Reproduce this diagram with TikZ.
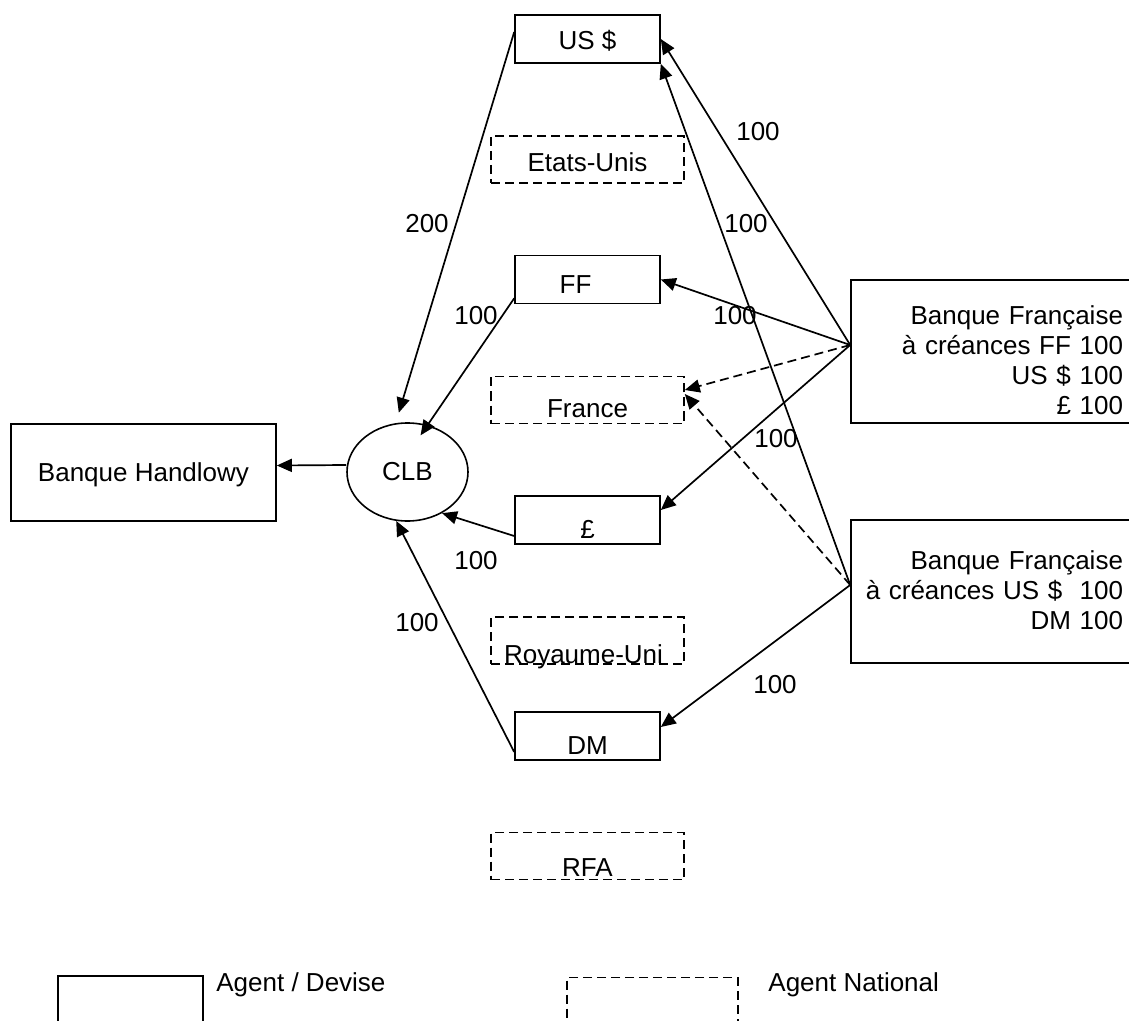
\documentclass[tikz,border=0pt]{standalone}
\usepackage{fontspec}
\setmainfont{Liberation Sans}
\usepackage{tikz}
\usetikzlibrary{
    shapes, 
    arrows.meta, 
}
\newcommand{\police}{\fontsize{13pt}{15pt}\selectfont}
\newcommand{\devisewidth}{72.5pt}
\newcommand{\deviseheight}{24pt}
\newcommand{\nationalwidth}{96.5pt}
\newcommand{\nationalheight}{23.5pt}
\newcommand{\banquewidth}{131pt}
\tikzstyle{tirets} = [dash pattern=on 4.5pt off 2.5pt]
\tikzstyle{flux} = [-{Triangle[length=7.5pt, width=6.5pt]}, line width=0.85pt]
\tikzstyle{fluxnational} = [flux, tirets]
\tikzstyle{devise} = [
  draw,     
  shape=rectangle,
  color=black,
  solid, 
  line width=0.8pt,
  inner sep=0pt,
  text depth=0pt,
  minimum width=\devisewidth,
  minimum height=\deviseheight,
]
\tikzstyle{national} = [
  draw,     
  shape=rectangle,
  color=black,
  tirets, 
  line width=0.8pt,
  inner sep=0pt,
  text depth=0pt,
  minimum width=\nationalwidth,
  minimum height=\nationalheight,
]
\tikzstyle{banque} = [
  draw,     
  shape=rectangle,
  color=black,
  solid, 
  line width=0.8pt,
  inner xsep=5pt,
  inner ysep=0pt,
  text width=\banquewidth,
  align=right,
]
\tikzstyle{clearing} = [
  draw,
  shape=ellipse,
  color=black,
  solid, 
  line width=0.8pt,
  inner sep=0pt,
  minimum width=60.5pt,
  minimum height=49pt,
]
\tikzstyle{montant} = [inner sep=0pt]

\begin{document}
\begin{tikzpicture}[
    x=0.5pt, y=-0.5pt,
    every node/.style={font=\police},
    ]
    \useasboundingbox (0,0) rectangle (1129,1021);
    \clip (0,0) rectangle (1129,1021);
    % agents / devises et agents nationaux
    \node[devise, text height=10.3pt] (usd) at (587.5, 39) {US \$};
    \node[national, text height=11.8pt] (etatsunis) at (587.5, 159.5) {Etats-Unis};
    \node[devise, text height=13.8pt] (ff) at (587.5, 279.5) {FF\hspace*{12pt}};
    \node[national, text height=17.3pt] (france) at (587.5, 400) {France};
    \node[devise, text height=18.3pt] (livre) at (587.5, 520) {£};
    \node[national, text height=22.8pt] (royaumeuni) at (587.5, 640.5) {Royaume-Uni\hspace*{4pt}};
    \node[devise, text height=18.8pt] (dm) at (587.5, 736) {DM};
    \node[national, text height=20.3pt] (rfa) at (587.5, 856) {RFA};
    % banques
    \node[devise, minimum width=132.5pt, minimum height=48.5pt] (handlowy) at (143.5, 472.5) {Banque Handlowy};
    \node[clearing] (clb) at (407.5, 472) {CLB};
    \node[banque, text height=22.5pt, text depth=49pt] (bfa) at (992, 351.5)
      {Banque Française\\à créances FF 100\\US \$ 100\\£ 100};
    \node[banque, text height=24.5pt, text depth=47pt] (bfb) at (992, 591.5)
      {Banque Française\\à créances US \$~~100\\DM 100};
    % flux
    \draw[flux] ([yshift=3.5pt]clb.west) -- ([yshift=3.5pt]handlowy.east);
    \draw[flux] ([yshift=3.5pt]usd.west) -- ([yshift=5pt]clb.100);
    \draw[flux] ([yshift=3pt]ff.south west) -- ([yshift=-6pt]clb.75);
    \draw[flux] ([yshift=-8pt]livre.west) -- (clb.310);
    \draw[flux] ([yshift=-8pt]dm.west) -- (clb.257);
    \draw[flux] ([yshift=3.25pt]bfa.west) -- (usd.east);
    \draw[flux] ([yshift=3.25pt]bfa.west) -- (ff.east);
    \draw[fluxnational] ([yshift=3.25pt]bfa.west) -- ([yshift=5pt]france.east);
    \draw[flux] ([yshift=3.25pt]bfa.west) -- ([yshift=5pt]livre.east);
    \draw[flux] ([yshift=3.25pt]bfb.west) -- (usd.south east);
    \draw[fluxnational] ([yshift=3.25pt]bfb.west) -- ([yshift=3pt]france.east);
    \draw[flux] ([yshift=3.25pt]bfb.west) -- ([yshift=4.5pt]dm.east);
    % montants
    \node[montant] (m200) at (427, 224) {200};
    \node[montant] (mff) at (476, 316) {100};
    \node[montant] (mlivre) at (476, 561) {100};
    \node[montant] (mdm) at (417, 623) {100};
    \node[montant] (musda) at (758, 132) {100};
    \node[montant] (musdb) at (746, 224) {100};
    \node[montant] (mffa) at (735, 316) {100};
    \node[montant] (mlivrea) at (776, 439) {100};
    \node[montant] (mdmb) at (775, 685) {100};
    % legende
    \node[devise] (legdevise) at (130.5, 1000) {};
    \node[montant, anchor=base west] (txtdevise) at (216, 991) {Agent / Devise};
    \node[national, minimum width=85.5pt] (legnational) at (652.5, 1001) {};
    \node[montant, anchor=base west] (txtnational) at (768, 991) {Agent National};
\end{tikzpicture}
\end{document}
